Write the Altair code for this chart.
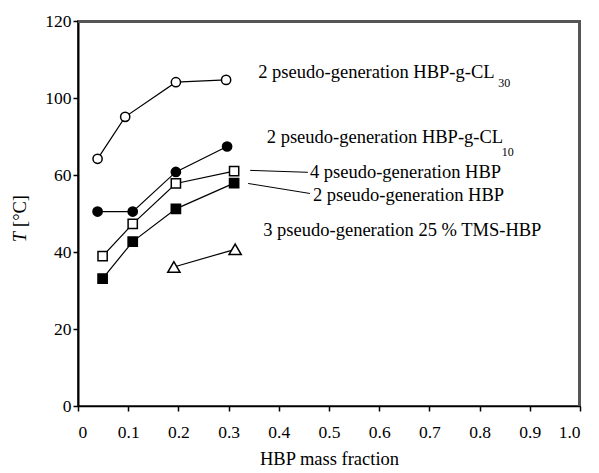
import altair as alt
import pandas as pd

# --- data (y in axis-position units: the original axis labels 80 and 100 read "100" and "120")
series_names = ["CL30", "CL10", "HBP4", "HBP2"]
series_shapes = ["circle", "circle", "square", "square"]
series_fills = ["white", "black", "white", "black"]

cl30_x = [0.039, 0.094, 0.195, 0.295]
cl30_y = [64.2, 75.1, 84.1, 84.7]
cl10_x = [0.039, 0.109, 0.195, 0.297]
cl10_y = [50.5, 50.5, 60.8, 67.4]
hbp4_x = [0.049, 0.109, 0.195, 0.311]
hbp4_y = [38.9, 47.3, 57.8, 61.0]
hbp2_x = [0.049, 0.109, 0.195, 0.311]
hbp2_y = [33.1, 42.7, 51.2, 57.9]
tms_x = [0.191, 0.313]
tms_y = [36.1, 40.7]

x_ticks = [0, 0.1, 0.2, 0.3, 0.4, 0.5, 0.6, 0.7, 0.8, 0.9, 1.0]
y_ticks = [0, 20, 40, 60, 80, 100]
y_tick_labels = ["0", "20", "40", "60", "100", "120"]

label_texts = ["2 pseudo-generation HBP-g-CL", "2 pseudo-generation HBP-g-CL",
               "4 pseudo-generation HBP", "2 pseudo-generation HBP",
               "3 pseudo-generation 25 % TMS-HBP"]
label_x = [0.359, 0.376, 0.462, 0.468, 0.369]
label_y = [86.7, 69.8, 60.7, 54.7, 45.6]
sub_texts = ["30", "10"]
sub_x = [0.837, 0.844]
sub_y = [83.8, 66.0]

leader_x = [0.343, 0.339]
leader_y = [61.2, 57.8]
leader_x2 = [0.458, 0.462]
leader_y2 = [60.7, 55.2]

W, H = 502, 385

rows = []
for name, xs_, ys_ in zip(series_names, [cl30_x, cl10_x, hbp4_x, hbp2_x],
                          [cl30_y, cl10_y, hbp4_y, hbp2_y]):
    for i, (xv, yv) in enumerate(zip(xs_, ys_)):
        rows.append({"series": name, "x": xv, "y": yv, "o": i})
df = pd.DataFrame(rows)

line_rows = list(rows)
for i, (xv, yv) in enumerate(zip(tms_x, tms_y)):
    line_rows.append({"series": "TMS", "x": xv, "y": yv, "o": i})
line_df = pd.DataFrame(line_rows)

tms_df = pd.DataFrame({"x": tms_x, "y": tms_y})
labels_df = pd.DataFrame({"text": label_texts, "x": label_x, "y": label_y})
subs_df = pd.DataFrame({"text": sub_texts, "x": sub_x, "y": sub_y})
leaders_df = pd.DataFrame({"x": leader_x, "y": leader_y, "x2": leader_x2, "y2": leader_y2})

FONT = "Liberation Serif"

ylab_map = " : ".join(
    f"datum.value == {v} ? '{l}'" for v, l in zip(y_ticks, y_tick_labels)
) + " : datum.label"

xs = alt.Scale(domain=[0, 1], nice=False)
ys = alt.Scale(domain=[0, 100], nice=False)

x_enc = alt.X("x:Q", scale=xs, axis=alt.Axis(
    values=x_ticks, title="HBP mass fraction",
    labelExpr="datum.value == 0 ? '0' : format(datum.value, '.1f')",
    grid=False, domainColor="black", domainWidth=1.5, tickColor="black",
    tickSize=5, tickWidth=1.5, labelFont=FONT, labelFontSize=17.5, labelColor="black",
    labelPadding=12, titleFont=FONT, titleFontSize=18.5, titleFontWeight="normal",
    titleColor="black", titlePadding=9))
y_enc = alt.Y("y:Q", scale=ys, axis=alt.Axis(
    values=y_ticks, title=None, labelExpr=ylab_map,
    grid=False, domainColor="black", domainWidth=2, tickColor="black",
    tickSize=5, tickWidth=1.5, labelFont=FONT, labelFontSize=17.5, labelColor="black",
    labelPadding=2))

# frame: top and right edges of the plot box (grey)
frame_top = alt.Chart(pd.DataFrame({"k": [0]})).mark_rule(
    color="#555555", strokeWidth=2, clip=False).encode(
    x=alt.value(0), x2=alt.value(W), y=alt.value(1))
frame_right = alt.Chart(pd.DataFrame({"k": [0]})).mark_rule(
    color="#555555", strokeWidth=2, clip=False).encode(
    x=alt.value(W - 1), y=alt.value(0), y2=alt.value(H))

lines = alt.Chart(line_df).mark_line(color="black", strokeWidth=1.2).encode(
    x=x_enc, y=y_enc, detail="series:N", order="o:Q")

points = alt.Chart(df).mark_point(stroke="black", strokeWidth=1.5, opacity=1, size=85).encode(
    x="x:Q", y="y:Q",
    shape=alt.Shape("series:N", scale=alt.Scale(domain=series_names, range=series_shapes), legend=None),
    fill=alt.Fill("series:N", scale=alt.Scale(domain=series_names, range=series_fills), legend=None),
)

tms_points = alt.Chart(tms_df).mark_point(shape="triangle-up", stroke="black", fill="white",
                                          strokeWidth=1.5, opacity=1, size=150).encode(x="x:Q", y="y:Q")

labels = alt.Chart(labels_df).mark_text(
    align="left", baseline="middle", font=FONT, fontSize=18.5, color="black"
).encode(x="x:Q", y="y:Q", text="text:N")
subs = alt.Chart(subs_df).mark_text(
    align="left", baseline="middle", font=FONT, fontSize=12, color="black"
).encode(x="x:Q", y="y:Q", text="text:N")
leaders = alt.Chart(leaders_df).mark_rule(color="black", strokeWidth=1).encode(
    x="x:Q", y="y:Q", x2="x2:Q", y2="y2:Q")

ytitle_T = alt.Chart(pd.DataFrame({"t": ["T"]})).mark_text(
    angle=270, font=FONT, fontSize=18.5, fontStyle="italic", color="black",
    align="center", baseline="middle"
).encode(x=alt.value(-58), y=alt.value(216), text="t:N")
ytitle_C = alt.Chart(pd.DataFrame({"t": ["[°C]"]})).mark_text(
    angle=270, font=FONT, fontSize=18.5, color="black",
    align="center", baseline="middle"
).encode(x=alt.value(-58), y=alt.value(190), text="t:N")

chart = alt.layer(frame_top, frame_right, lines, points, tms_points, leaders, labels, subs,
                  ytitle_T, ytitle_C).properties(
    width=W, height=H,
    background="white",
    autosize=alt.AutoSizeParams(type="none"),
    padding={"left": 70, "top": 13, "right": 10, "bottom": 66},
).configure_view(stroke="#555555", strokeWidth=2)

chart.save("out.html", embed_options={"renderer": "svg", "actions": False})
